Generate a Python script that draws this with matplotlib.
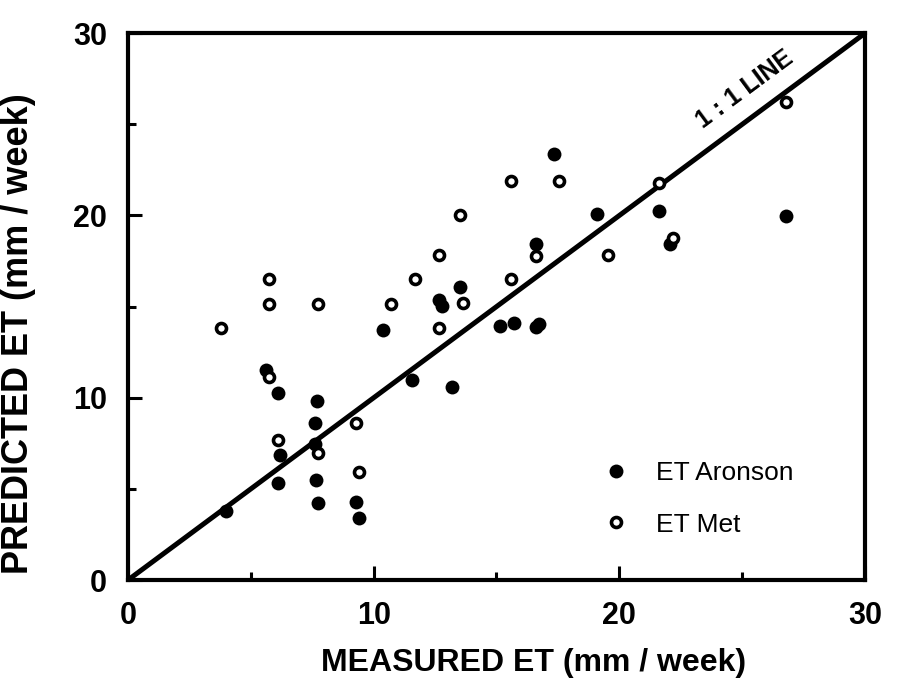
import matplotlib
matplotlib.use("Agg")
import matplotlib.pyplot as plt
from matplotlib.ticker import MultipleLocator

plt.rcParams["font.family"] = ["Liberation Sans", "DejaVu Sans"]

# ET Aronson (filled)
aronson_x = [4.0, 5.6, 6.1, 6.2, 6.1, 7.7, 7.6, 7.6, 7.65, 7.75, 9.3, 9.4,
             10.4, 11.55, 12.65, 12.8, 13.2, 13.5, 15.15, 15.7, 16.6, 16.75,
             16.6, 17.35, 19.1, 21.6, 22.05, 26.8]
aronson_y = [3.8, 11.5, 10.25, 6.85, 5.3, 9.8, 8.6, 7.45, 5.5, 4.25, 4.3, 3.4,
             13.7, 11.0, 15.35, 15.05, 10.6, 16.05, 13.95, 14.1, 13.9, 14.05,
             18.45, 23.4, 20.1, 20.25, 18.45, 19.95]

# ET Met (open)
met_x = [3.8, 5.75, 5.75, 5.75, 6.1, 7.75, 7.75, 9.3, 9.4, 10.7, 11.7, 12.65,
         12.65, 13.5, 13.65, 15.6, 15.6, 16.6, 17.55, 19.55, 21.6, 22.2, 26.8]
met_y = [13.8, 16.5, 15.15, 11.15, 7.7, 15.15, 6.95, 8.6, 5.95, 15.15, 16.5,
         17.85, 13.8, 20.05, 15.2, 21.9, 16.5, 17.8, 21.9, 17.85, 21.8, 18.75,
         26.2]

one_to_one = [0, 30]

fig = plt.figure(figsize=(8.97, 6.78), dpi=100, facecolor="white")
ax = fig.add_axes([0.1427, 0.1445, 0.8216, 0.8065])

ax.plot(one_to_one, one_to_one, color="black", lw=3.6, solid_capstyle="butt",
        zorder=2)
ax.plot(aronson_x, aronson_y, "o", color="black", ms=10, mew=0,
        label="ET Aronson", zorder=3)
ax.plot(met_x, met_y, "o", mfc="white", mec="black", ms=7.2, mew=2.6,
        label="ET Met", zorder=3)

ax.text(25.1, 26.9, "1 : 1 LINE", rotation=36.5, rotation_mode="anchor",
        ha="center", va="center", fontsize=18, fontweight="bold")

ax.set_xlim(0, 30)
ax.set_ylim(0, 30)
ax.xaxis.set_major_locator(MultipleLocator(10))
ax.xaxis.set_minor_locator(MultipleLocator(5))
ax.yaxis.set_major_locator(MultipleLocator(10))
ax.yaxis.set_minor_locator(MultipleLocator(5))
ax.tick_params(which="both", direction="in", width=2.2, top=False, right=False)
ax.tick_params(which="major", length=10, labelsize=22, pad=15)
ax.tick_params(which="minor", length=5.5)
for lab in ax.get_xticklabels() + ax.get_yticklabels():
    lab.set_fontweight("bold")
for sp in ax.spines.values():
    sp.set_linewidth(3)

ax.set_xlabel("MEASURED ET (mm / week)", fontsize=23, fontweight="bold")
ax.xaxis.set_label_coords(0.55, -0.125)
ax.set_ylabel("PREDICTED ET (mm / week)", fontsize=26, fontweight="bold")
ax.yaxis.set_label_coords(-0.125, 0.45)

ax.legend(loc="lower left", bbox_to_anchor=(0.627, 0.06), frameon=False,
          fontsize=19, handlelength=1.2, handletextpad=0.9, labelspacing=1.05,
          borderaxespad=0)

fig.savefig("out.png", dpi=100, facecolor="white")
